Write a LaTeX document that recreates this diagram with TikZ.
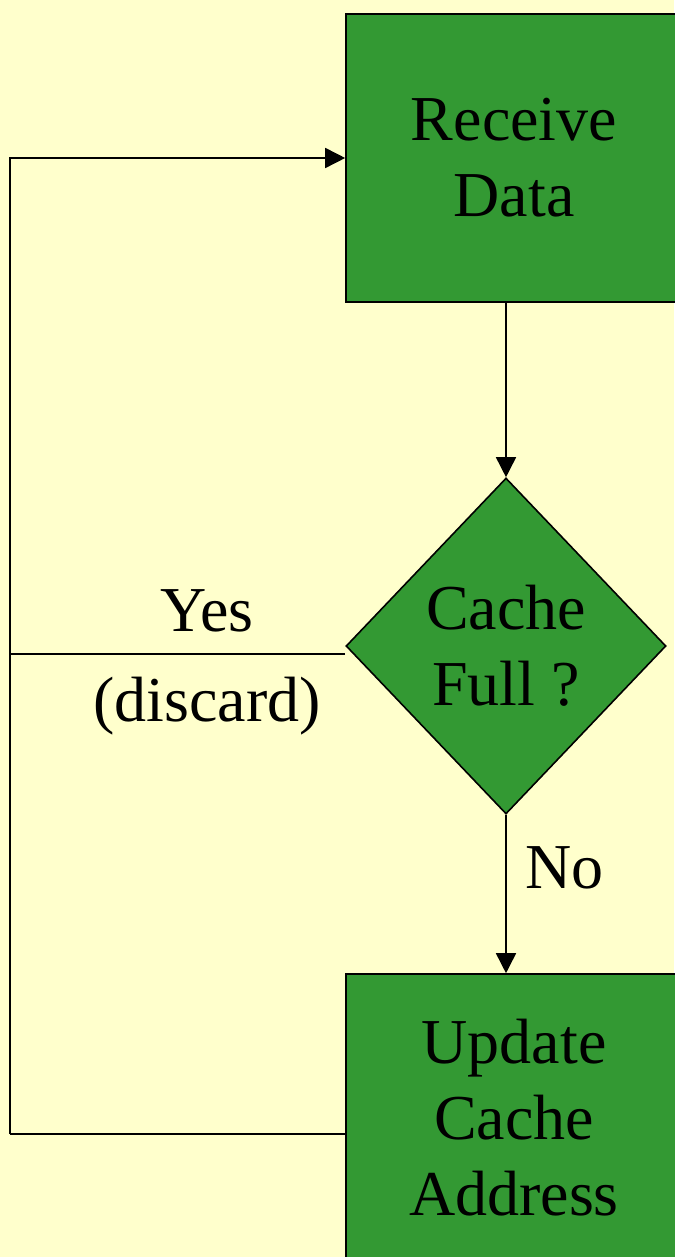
\documentclass[tikz,border=0pt]{standalone}
\usepackage{fontspec}
\setmainfont{Liberation Serif}
\usetikzlibrary{shapes.geometric,arrows.meta}
\definecolor{paper}{HTML}{FFFFCC}
\definecolor{leaf}{HTML}{339933}
\begin{document}
\begin{tikzpicture}[x=1pt,y=-1pt,
  stepbox/.style={rectangle,draw=black,line width=1.6pt,fill=leaf,
    minimum width=336pt,minimum height=288pt,inner sep=0pt,
    align=center,font=\fontsize{64}{76}\selectfont},
  decide/.style={diamond,draw=black,line width=1.6pt,fill=leaf,
    minimum width=320pt,minimum height=336pt,inner sep=0pt,
    align=center,font=\fontsize{64}{76}\selectfont},
  wire/.style={line width=1.6pt},
  flow/.style={wire,-{Triangle[length=20pt,width=20pt]}},
  lbl/.style={font=\fontsize{64}{90}\selectfont,align=center,inner sep=0pt}]
  % page and background
  \fill[paper] (0,0) rectangle (674,1257);
  \useasboundingbox (0,0) rectangle (674,1257);

  % process steps and the decision
  \node[stepbox] (recv) at (514,158) {Receive\\Data};
  \node[decide] (full) at (506,646) {Cache\\Full ?};
  \node[stepbox] (upd) at (514,1118) {Update\\Cache\\Address};

  % main flow
  \draw[flow] (recv.south -| full.north) -- (full.north);
  \draw[flow] (full.south) -- (upd.north -| full.south);
  \node[lbl,anchor=west] (no) at (525,868) {No};

  % return path on the left
  \coordinate (back) at (upd.west |- 0,1134);
  \coordinate (yesend) at (full.west |- 0,654);
  \coordinate (rail) at (10,1134);
  \draw[wire] (back) -- (rail);
  \draw[flow] (rail) |- (recv.west);
  \draw[wire] (yesend) -- (rail |- yesend);
  \node[lbl] (yes) at (207,662) {Yes\\(discard)};
\end{tikzpicture}
\end{document}
